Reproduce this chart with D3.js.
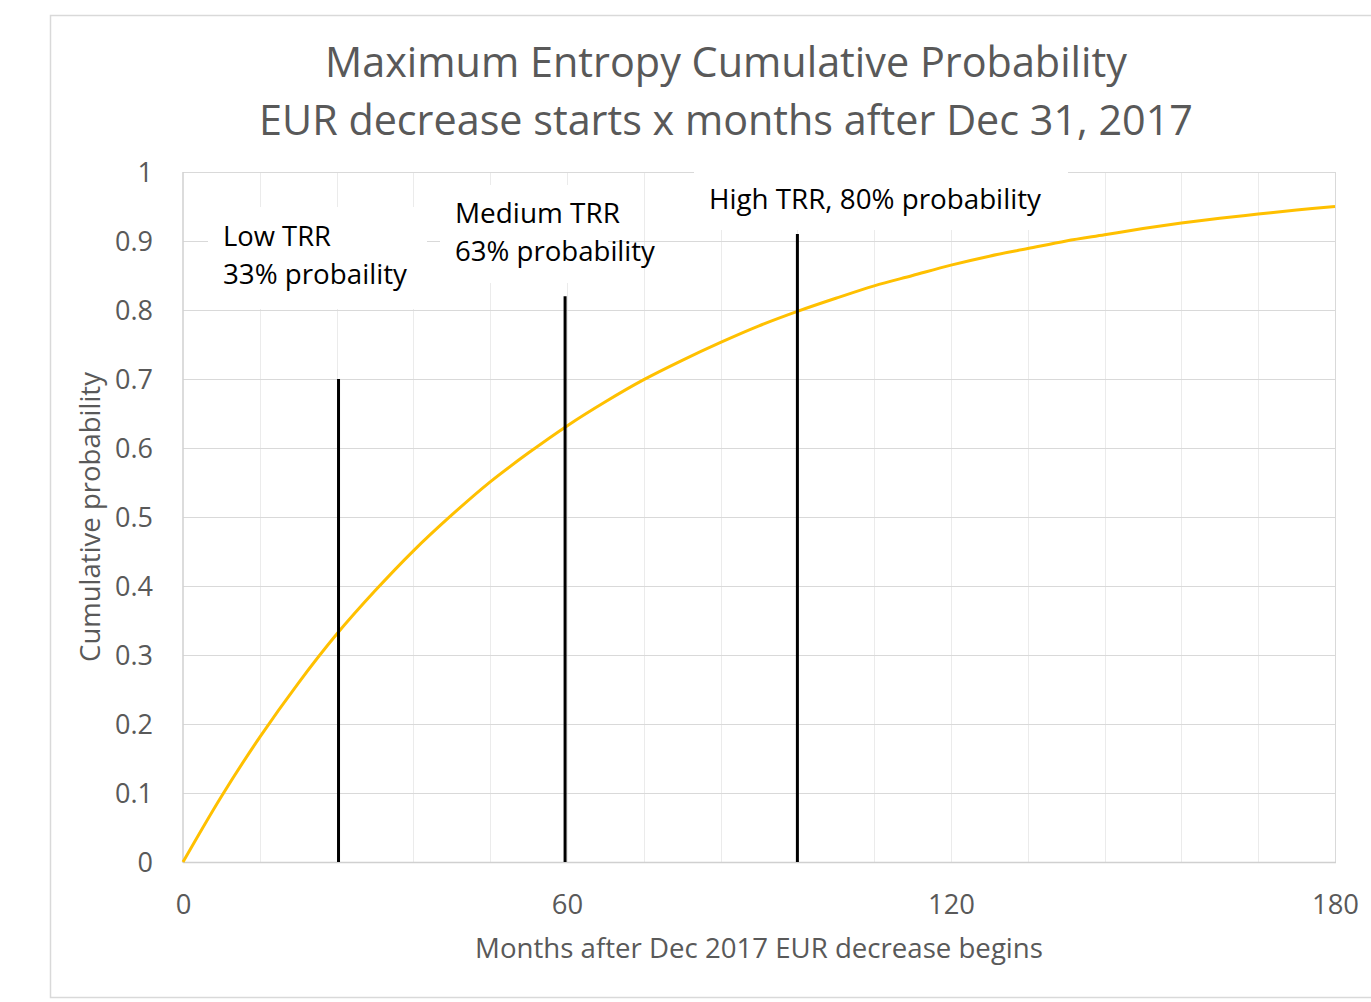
<!DOCTYPE html>
<html>
<head>
<meta charset="utf-8">
<script src="https://cdn.jsdelivr.net/npm/d3@7"></script>
<style>
  html, body { margin: 0; padding: 0; background: #fff; }
  svg { display: block; }
  text { font-family: "Open Sans", "Noto Sans", sans-serif; }
</style>
</head>
<body>
<svg id="chart" width="1371" height="1002"></svg>
<script>
// ---- data ----
const titleLines = ["Maximum Entropy Cumulative Probability", "EUR decrease starts x months after Dec 31, 2017"];
const xAxisTitle = "Months after Dec 2017 EUR decrease begins";
const yAxisTitle = "Cumulative probability";
const xTicks = [0, 60, 120, 180];
const yTicks = [0, 0.1, 0.2, 0.3, 0.4, 0.5, 0.6, 0.7, 0.8, 0.9, 1];
const yTickLabels = ["0", "0.1", "0.2", "0.3", "0.4", "0.5", "0.6", "0.7", "0.8", "0.9", "1"];
const months = [0, 6, 12, 18, 24, 30, 36, 42, 48, 54, 60, 66, 72, 78, 84, 90, 96, 102, 108, 114, 120, 126, 132, 138, 144, 150, 156, 162, 168, 174, 180];
const cumProb = [0, 0.095, 0.181, 0.259, 0.330, 0.393, 0.451, 0.503, 0.551, 0.593, 0.632, 0.667, 0.699, 0.727, 0.753, 0.777, 0.798, 0.817, 0.835, 0.850, 0.865, 0.878, 0.889, 0.900, 0.909, 0.918, 0.926, 0.933, 0.939, 0.945, 0.950];
const markerMonths = [24.3, 59.7, 96];
const markerTops = [0.70, 0.82, 0.91];
const labelLow = ["Low TRR", "33% probaility"];
const labelMedium = ["Medium TRR", "63% probability"];
const labelHigh = ["High TRR, 80% probability"];

// ---- layout ----
const svg = d3.select("#chart");
const L = 183, R = 1335, T = 172, B = 862;
const x = d3.scaleLinear().domain([0, 180]).range([L, R]);
const y = d3.scaleLinear().domain([0, 1]).range([B, T]);

function fitWidth(sel, w) {
  sel.each(function() {
    const fs = parseFloat(this.getAttribute("font-size"));
    const len = this.getComputedTextLength();
    this.setAttribute("font-size", (fs * w / len).toFixed(2));
  });
}
function fitGroup(sel, refText, w) {
  let factor = 1;
  sel.each(function() {
    if (this.textContent === refText) factor = w / this.getComputedTextLength();
  });
  sel.each(function() {
    const fs = parseFloat(this.getAttribute("font-size"));
    this.setAttribute("font-size", (fs * factor).toFixed(2));
  });
}

// outer chart border
svg.append("rect").attr("x", 50.5).attr("y", 15.5).attr("width", 1340).attr("height", 982)
  .attr("fill", "#fff").attr("stroke", "#d9d9d9").attr("stroke-width", 1.5);

// vertical minor gridlines every 12 months
const g = svg.append("g");
g.selectAll("line.vg").data(d3.range(12, 180, 12)).join("line")
  .attr("x1", d => Math.round(x(d)) + 0.5).attr("x2", d => Math.round(x(d)) + 0.5)
  .attr("y1", T).attr("y2", B).attr("stroke", "#ebebeb").attr("stroke-width", 1);
// horizontal gridlines
g.selectAll("line.hg").data(yTicks.slice(1)).join("line")
  .attr("x1", L).attr("x2", R)
  .attr("y1", d => Math.round(y(d)) + 0.5).attr("y2", d => Math.round(y(d)) + 0.5)
  .attr("stroke", "#d9d9d9").attr("stroke-width", 1);
// right border
g.append("line").attr("x1", R + 0.5).attr("x2", R + 0.5).attr("y1", T).attr("y2", B)
  .attr("stroke", "#d9d9d9");
// axes lines
g.append("line").attr("x1", L).attr("x2", L).attr("y1", T).attr("y2", B + 1)
  .attr("stroke", "#d0d0d0").attr("stroke-width", 1.5);
g.append("line").attr("x1", L).attr("x2", R + 1).attr("y1", B + 0.5).attr("y2", B + 0.5)
  .attr("stroke", "#d0d0d0").attr("stroke-width", 1.5);

// axis tick labels via d3 axes (domain/ticks hidden)
const yAxis = d3.axisLeft(y).tickValues(yTicks).tickFormat((d, i) => yTickLabels[i]).tickSize(0).tickPadding(30);
const ya = svg.append("g").attr("transform", `translate(${L},0)`).call(yAxis);
ya.select(".domain").remove();
ya.selectAll("text").attr("font-size", 24).attr("fill", "#595959")
  .style("font-family", "'Open Sans', 'Noto Sans', sans-serif").attr("dy", "0.35em");
fitGroup(ya.selectAll("text"), "0.9", 38);

const xAxis = d3.axisBottom(x).tickValues(xTicks).tickFormat(d3.format("d")).tickSize(0).tickPadding(30);
const xa = svg.append("g").attr("transform", `translate(0,${B})`).call(xAxis);
xa.select(".domain").remove();
xa.selectAll("text").attr("font-size", 24).attr("fill", "#595959")
  .style("font-family", "'Open Sans', 'Noto Sans', sans-serif").attr("dy", "0.35em").attr("y", 42);
fitGroup(xa.selectAll("text"), "120", 47);

// white label boxes (drawn over gridlines)
const boxes = [
  { x0: 208, x1: 427, y0: 207, y1: 309 },
  { x0: 440, x1: 608, y0: 185, y1: 283 },
  { x0: 694, x1: 1068, y0: 165, y1: 230 }
];
svg.selectAll("rect.box").data(boxes).join("rect")
  .attr("x", d => d.x0).attr("y", d => d.y0)
  .attr("width", d => d.x1 - d.x0).attr("height", d => d.y1 - d.y0)
  .attr("fill", "#fff");

// curve
const line = d3.line().x((d, i) => x(months[i])).y(d => y(d)).curve(d3.curveCatmullRom);
svg.append("path").datum(cumProb).attr("d", line)
  .attr("fill", "none").attr("stroke", "#FFC000").attr("stroke-width", 3);

// marker lines
svg.selectAll("line.marker").data(markerMonths).join("line")
  .attr("x1", d => x(d)).attr("x2", d => x(d))
  .attr("y1", y(0)).attr("y2", (d, i) => y(markerTops[i]))
  .attr("stroke", "#000").attr("stroke-width", 3);

// annotation text
function addLabel(lines, xPos, yPos, gap, widths) {
  lines.forEach((t, i) => {
    const el = svg.append("text").attr("x", xPos).attr("y", yPos + i * gap)
      .attr("dy", "0.35em").attr("font-size", 26).attr("fill", "#000").text(t);
    fitWidth(el, widths[i]);
  });
}
addLabel(labelLow, 223, 236, 38, [108, 184]);
addLabel(labelMedium, 455, 213, 38, [165, 200]);
addLabel(labelHigh, 709, 199, 38, [332]);

// title
titleLines.forEach((t, i) => {
  const el = svg.append("text").attr("x", 726).attr("y", 63 + i * 58)
    .attr("text-anchor", "middle").attr("dy", "0.35em")
    .attr("font-size", 40).attr("fill", "#595959").text(t);
  fitWidth(el, i === 0 ? 802 : 934);
});

// axis titles
const xt = svg.append("text").attr("x", 759).attr("y", 948).attr("text-anchor", "middle")
  .attr("dy", "0.35em").attr("font-size", 24).attr("fill", "#595959").text(xAxisTitle);
fitWidth(xt, 568);
const yt = svg.append("text").attr("transform", "translate(90,517) rotate(-90)")
  .attr("text-anchor", "middle").attr("dy", "0.35em")
  .attr("font-size", 24).attr("fill", "#595959").text(yAxisTitle);
fitWidth(yt, 290);
</script>
</body>
</html>
